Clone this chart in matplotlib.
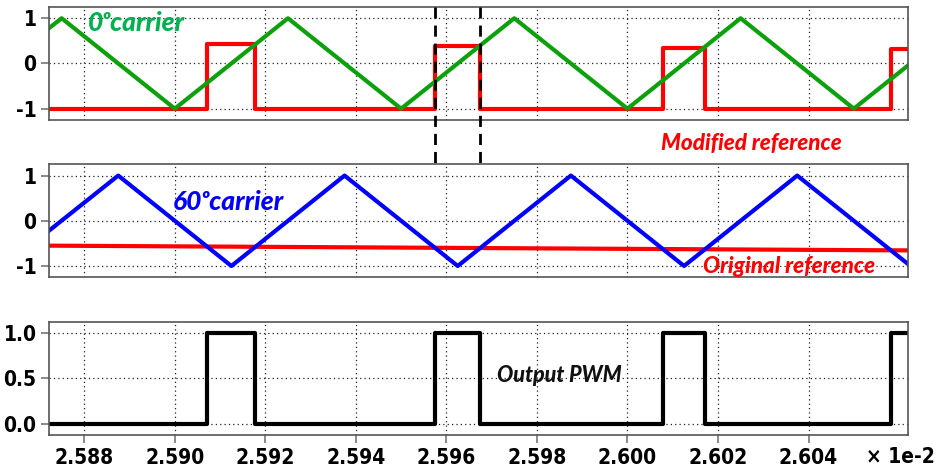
import matplotlib
matplotlib.use("Agg")
import matplotlib.pyplot as plt
from matplotlib.transforms import blended_transform_factory

# time axis (x 1e-2 s)
T_START, T_END = 2.58722, 2.60619

# 0 deg triangular carrier (vertices)
carrier0_t = [2.58722, 2.5875, 2.590, 2.5925, 2.595, 2.5975, 2.600, 2.6025, 2.605, 2.60619]
carrier0_v = [0.78, 1, -1, 1, -1, 1, -1, 1, -1, -0.05]

# 60 deg triangular carrier (vertices)
carrier60_t = [2.58722, 2.58875, 2.59125, 2.59375, 2.59625, 2.59875, 2.60125, 2.60375, 2.60619]
carrier60_v = [-0.22, 1, -1, 1, -1, 1, -1, 1, -0.95]

# original (slowly varying) reference
orig_t = [2.58722, 2.60619]
orig_v = [-0.55, -0.655]

# modified reference and resulting PWM, both piecewise constant (steps-post)
edge_t = [2.58722, 2.59071, 2.59178, 2.59574, 2.59674, 2.60078, 2.60171, 2.60582, 2.60619]
mod_v = [-1, 0.435, -1, 0.38, -1, 0.35, -1, 0.32, 0.32]
pwm_v = [0, 1, 0, 1, 0, 1, 0, 1, 1]

x_ticks = [2.588, 2.590, 2.592, 2.594, 2.596, 2.598, 2.600, 2.602, 2.604]

TICK_FONT = dict(family="DejaVu Sans", stretch="condensed", weight="bold", size=15)
NOTE_FONT = ["Lato", "DejaVu Sans"]

fig = plt.figure(figsize=(9.4, 4.75), dpi=100)
ax_top = fig.add_axes([0.0521, 0.7474, 0.9135, 0.238])
ax_mid = fig.add_axes([0.0521, 0.4162, 0.9135, 0.238])
ax_bot = fig.add_axes([0.0521, 0.0842, 0.9135, 0.2385])


def style(ax, yticks, ylabels, ylim, show_x):
    ax.set_xlim(T_START, T_END)
    ax.set_ylim(*ylim)
    ax.set_xticks(x_ticks)
    ax.set_yticks(yticks)
    ax.set_yticklabels(ylabels, fontdict=TICK_FONT)
    ax.grid(True, color="#222222", linestyle=(0, (1, 2.5)), linewidth=0.9)
    for s in ax.spines.values():
        s.set_color("#555555")
        s.set_linewidth(1.2)
    ax.tick_params(axis="y", length=6, width=1.2, color="#777777", pad=3)
    if show_x:
        ax.set_xticklabels([f"{v:.3f}" for v in x_ticks], fontdict=TICK_FONT)
        ax.tick_params(axis="x", length=6, width=1.2, color="#777777", pad=3)
    else:
        ax.tick_params(axis="x", length=0, labelbottom=False)


style(ax_top, [-1, 0, 1], ["-1", "0", "1"], (-1.25, 1.25), False)
style(ax_mid, [-1, 0, 1], ["-1", "0", "1"], (-1.25, 1.25), False)
style(ax_bot, [0, 0.5, 1], ["0.0", "0.5", "1.0"], (-0.125, 1.125), True)

note = dict(fontweight=900, fontstyle="italic", family=NOTE_FONT, va="center")

# top: 0 deg carrier and modified reference
ax_top.plot(edge_t, mod_v, color="#ff0000", lw=3, drawstyle="steps-post")
ax_top.plot(carrier0_t, carrier0_v, color="#0ca00c", lw=3)
ax_top.text(2.58808, 0.9, "0\u1d52carrier", color="#00b050", fontsize=19,
            ha="left", **note)

# middle: 60 deg carrier and original reference
ax_mid.plot(orig_t, orig_v, color="#ff0000", lw=3)
ax_mid.plot(carrier60_t, carrier60_v, color="#0000ff", lw=3)
ax_mid.text(2.58996, 0.42, "60\u1d52carrier", color="#0000ff", fontsize=19,
            ha="left", **note)
ax_mid.text(2.60274, 1.72, "Modified reference", color="#ff0000", fontsize=16.2,
            ha="center", clip_on=False, **note)
ax_mid.text(2.60357, -1.01, "Original reference", color="#ff0000", fontsize=16.2,
            ha="center", **note)

# bottom: output PWM
ax_bot.plot(edge_t, pwm_v, color="black", lw=3, drawstyle="steps-post")
ax_bot.text(2.59849, 0.53, "Output PWM", color="#111111", fontsize=15.5,
            ha="center", **note)

fig.text(0.995, 0.037, "\u00d7 1e-2", ha="right", va="center", fontdict=TICK_FONT)

# dashed markers at the PWM pulse edges, spanning the two upper panels
y_top = ax_top.get_position().y1
y_low = ax_mid.get_position().y0
trans = blended_transform_factory(ax_top.transData, fig.transFigure)
for t in (edge_t[3], edge_t[4]):
    ax_top.plot([t, t], [y_top, y_low], transform=trans, color="black", lw=2,
                linestyle=(0, (4, 2.5)), clip_on=False, zorder=5)

fig.savefig("out.png", dpi=100)
